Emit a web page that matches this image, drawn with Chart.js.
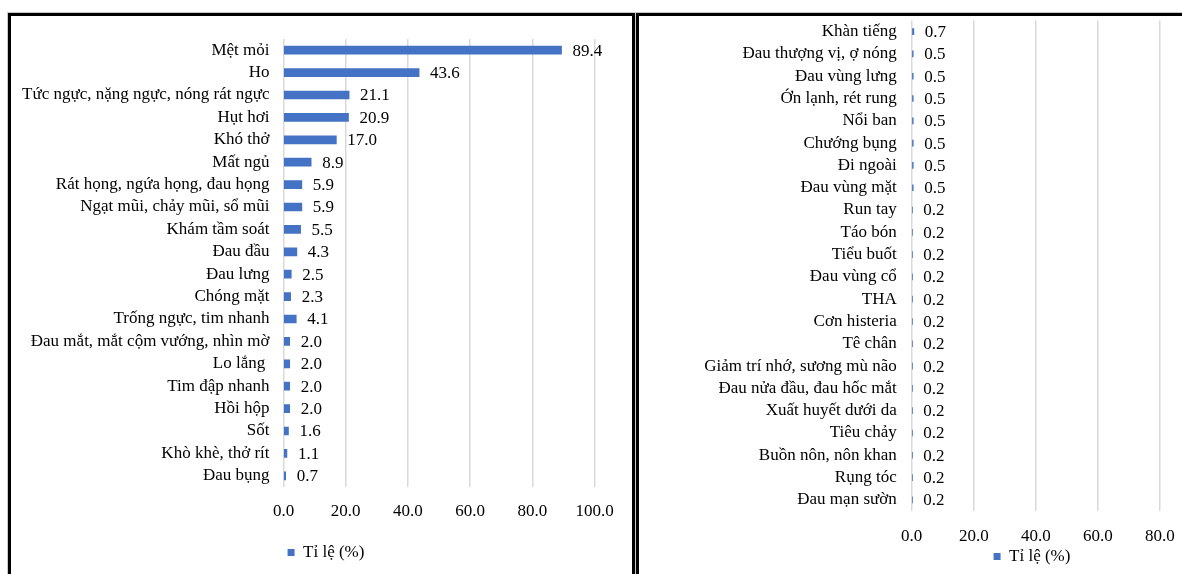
<!DOCTYPE html>
<html>
<head>
<meta charset="utf-8">
<script src="https://cdn.jsdelivr.net/npm/chart.js@4.4.0/dist/chart.umd.min.js"></script>
<style>
  html, body { margin: 0; padding: 0; background: #fff; }
  body { width: 1182px; height: 574px; overflow: hidden; position: relative; }
  canvas { position: absolute; }
  #leftChart { left: 12px; top: 16px; }
  #rightChart { left: 642px; top: 16px; }
  .frame { position: absolute; box-sizing: border-box; border: 3px solid #000; box-shadow: 0 0 0 1px #c8c8c8; pointer-events: none; }
  #leftFrame { left: 8px; top: 13px; width: 627px; height: 620px; }
  #rightFrame { left: 636px; top: 13px; width: 700px; height: 620px; }
</style>
</head>
<body>
<canvas id="leftChart" width="628" height="555"></canvas>
<canvas id="rightChart" width="600" height="559"></canvas>
<div class="frame" id="leftFrame"></div>
<div class="frame" id="rightFrame"></div>
<script>
// ==== DATA ====
const seriesName = 'Tỉ lệ (%)';

const leftLabels = [
    'Mệt mỏi', 'Ho', 'Tức ngực, nặng ngực, nóng rát ngực', 'Hụt hơi', 'Khó thở',
    'Mất ngủ', 'Rát họng, ngứa họng, đau họng', 'Ngạt mũi, chảy mũi, sổ mũi', 'Khám tầm soát', 'Đau đầu',
    'Đau lưng', 'Chóng mặt', 'Trống ngực, tim nhanh', 'Đau mắt, mắt cộm vướng, nhìn mờ', 'Lo lắng ',
    'Tim đập nhanh', 'Hồi hộp', 'Sốt', 'Khò khè, thở rít', 'Đau bụng'
];
const leftValues = [89.4, 43.6, 21.1, 20.9, 17.0, 8.9, 5.9, 5.9, 5.5, 4.3,
    2.5, 2.3, 4.1, 2.0, 2.0, 2.0, 2.0, 1.6, 1.1, 0.7];

const rightLabels = [
    'Khàn tiếng', 'Đau thượng vị, ợ nóng', 'Đau vùng lưng', 'Ớn lạnh, rét rung', 'Nổi ban',
    'Chướng bụng', 'Đi ngoài', 'Đau vùng mặt', 'Run tay', 'Táo bón', 'Tiểu buốt',
    'Đau vùng cổ', 'THA', 'Cơn histeria', 'Tê chân', 'Giảm trí nhớ, sương mù não',
    'Đau nửa đầu, đau hốc mắt', 'Xuất huyết dưới da', 'Tiêu chảy', 'Buồn nôn, nôn khan',
    'Rụng tóc', 'Đau mạn sườn'
];
const rightValues = [0.7, 0.5, 0.5, 0.5, 0.5, 0.5, 0.5, 0.5, 0.2, 0.2, 0.2,
    0.2, 0.2, 0.2, 0.2, 0.2, 0.2, 0.2, 0.2, 0.2, 0.2, 0.2];

const xTicks = [0, 20, 40, 60, 80, 100];

// ==== STYLE ====
const barColor = '#4472C4';
const gridColor = '#d9d9d9';
const textColor = '#000';
const serif = { family: '"Liberation Serif", "Times New Roman", serif', size: 17 };

// value labels at the end of each bar
const valueLabels = {
    id: 'valueLabels',
    afterDatasetsDraw(chart) {
        const ctx = chart.ctx;
        const meta = chart.getDatasetMeta(0);
        const data = chart.data.datasets[0].data;
        ctx.save();
        ctx.font = serif.size + 'px ' + serif.family;
        ctx.fillStyle = textColor;
        ctx.textAlign = 'left';
        ctx.textBaseline = 'middle';
        meta.data.forEach(function (bar, i) {
            ctx.fillText(data[i].toFixed(1), bar.x + 11, bar.y + 1);
        });
        ctx.restore();
    }
};

// Excel centres the legend under the plot, not the whole canvas: nudge it
const legendShift = {
    id: 'legendShift',
    afterLayout(chart, args, opts) {
        if (chart.legend) {
            chart.legend.left += opts.dx;
            chart.legend.right += opts.dx;
        }
    }
};

function makeChart(canvasId, labels, values, opt) {
    const ctx = document.getElementById(canvasId).getContext('2d');
    return new Chart(ctx, {
        type: 'bar',
        data: {
            labels: labels,
            datasets: [{
                label: seriesName,
                data: values,
                backgroundColor: barColor,
                borderWidth: 0,
                barThickness: opt.barThickness
            }]
        },
        options: {
            indexAxis: 'y',
            responsive: false,
            animation: false,
            layout: { padding: { top: opt.padTop, right: opt.padRight, left: 0, bottom: 0 } },
            scales: {
                x: {
                    min: xTicks[0],
                    max: xTicks[xTicks.length - 1],
                    afterBuildTicks: function (scale) {
                        scale.ticks = xTicks.map(function (v) { return { value: v }; });
                    },
                    afterFit: function (scale) {
                        scale.height = opt.xHeight;
                        scale.paddingLeft = 0;
                        scale.paddingRight = 0;
                    },
                    grid: { color: gridColor, drawTicks: false, lineWidth: 1.5 },
                    border: { display: false },
                    ticks: {
                        padding: opt.xPad,
                        color: textColor,
                        font: serif,
                        maxRotation: 0,
                        callback: function (v) { return Number(v).toFixed(1); }
                    }
                },
                y: {
                    afterFit: function (scale) {
                        scale.width = opt.yWidth;
                        scale.paddingTop = 0;
                        scale.paddingBottom = 0;
                    },
                    grid: { display: false, drawTicks: false },
                    border: { display: false },
                    ticks: { padding: opt.yPad, color: textColor, font: serif, autoSkip: false }
                }
            },
            plugins: {
                legend: {
                    position: 'bottom',
                    labels: {
                        boxWidth: 7,
                        boxHeight: 7,
                        padding: opt.legendPad,
                        color: textColor,
                        font: serif
                    }
                },
                legendShift: { dx: opt.legendDx },
                tooltip: { enabled: false }
            }
        },
        plugins: [valueLabels, legendShift]
    });
}

// left: canvas 12..640, plot 283.5..594.5, legend centred near x=326
makeChart('leftChart', leftLabels, leftValues, {
    barThickness: 8, padTop: 23, padRight: 45.5, xHeight: 47, xPad: 14.5,
    yWidth: 271.5, yPad: 14, legendPad: 10, legendDx: 22.75
});

// right: canvas 642..1242, plot 911.7..1222, legend centred near x=1032
makeChart('rightChart', rightLabels, rightValues, {
    barThickness: 6, padTop: 4.5, padRight: 20, xHeight: 33, xPad: 15.5,
    yWidth: 269.7, yPad: 15, legendPad: 4, legendDx: 100
});
</script>
</body>
</html>
